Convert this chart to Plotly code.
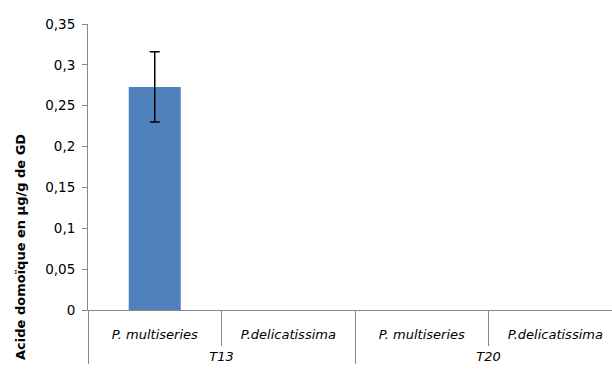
import plotly.graph_objects as go

# Sampling times and species for the grouped category axis
times = ["T13", "T13", "T20", "T20"]
species = ["P. multiseries", "P.delicatissima", "P. multiseries", "P.delicatissima"]

# Domoic acid content (µg/g DW) and standard deviation; None = nothing detected
domoic_acid = [0.273, None, None, None]
std_dev = [0.043, None, None, None]

y_ticks = [0, 0.05, 0.1, 0.15, 0.2, 0.25, 0.3, 0.35]

axis_grey = "#898989"
tick_font = dict(family="DejaVu Sans", size=13.5, color="#000000")

species_labels = [f"<i>{s}</i>" for s in species]
# Time labels get a blank (transparent) first line so they sit one row lower
time_labels = [f"<span style='color:rgba(0,0,0,0)'>.</span><br><i>{t}</i>" for t in times]

fig = go.Figure()
fig.add_trace(go.Bar(
    x=[time_labels, species_labels],
    y=domoic_acid,
    width=0.39,
    marker=dict(color="#4F81BD", line=dict(width=0)),
    error_y=dict(type="data", array=std_dev, visible=True,
                 color="#000000", thickness=1.5, width=5),
    showlegend=False,
))

fig.update_layout(
    width=612, height=374,
    margin=dict(l=88, r=0, t=24, b=64),
    paper_bgcolor="white", plot_bgcolor="white",
    separators=",.",
    font=tick_font,
    xaxis=dict(
        type="multicategory",
        range=[-0.5, 3.425],
        showline=True, linecolor=axis_grey, linewidth=1,
        ticks="outside", ticklen=35, tickcolor=axis_grey, tickwidth=1,
        showdividers=True, dividercolor=axis_grey, dividerwidth=1,
        ticklabelstandoff=12,
        tickfont=dict(family="DejaVu Sans", size=13, color="#000000"),
        showgrid=False,
    ),
    yaxis=dict(
        range=[0, 0.35],
        tickvals=y_ticks,
        showline=True, linecolor=axis_grey, linewidth=1,
        ticks="outside", ticklen=5, tickcolor=axis_grey,
        ticklabelstandoff=4,
        showgrid=False, zeroline=False,
        tickfont=tick_font,
    ),
    annotations=[dict(
        text="<b>Acide domoïque en µg/g de GD</b>",
        xref="paper", yref="paper", x=-0.13, y=0.22,
        xanchor="center", yanchor="middle", textangle=-90,
        showarrow=False,
        font=dict(family="DejaVu Sans", size=13, color="#000000"),
    )],
)

fig.write_html("out.html")
